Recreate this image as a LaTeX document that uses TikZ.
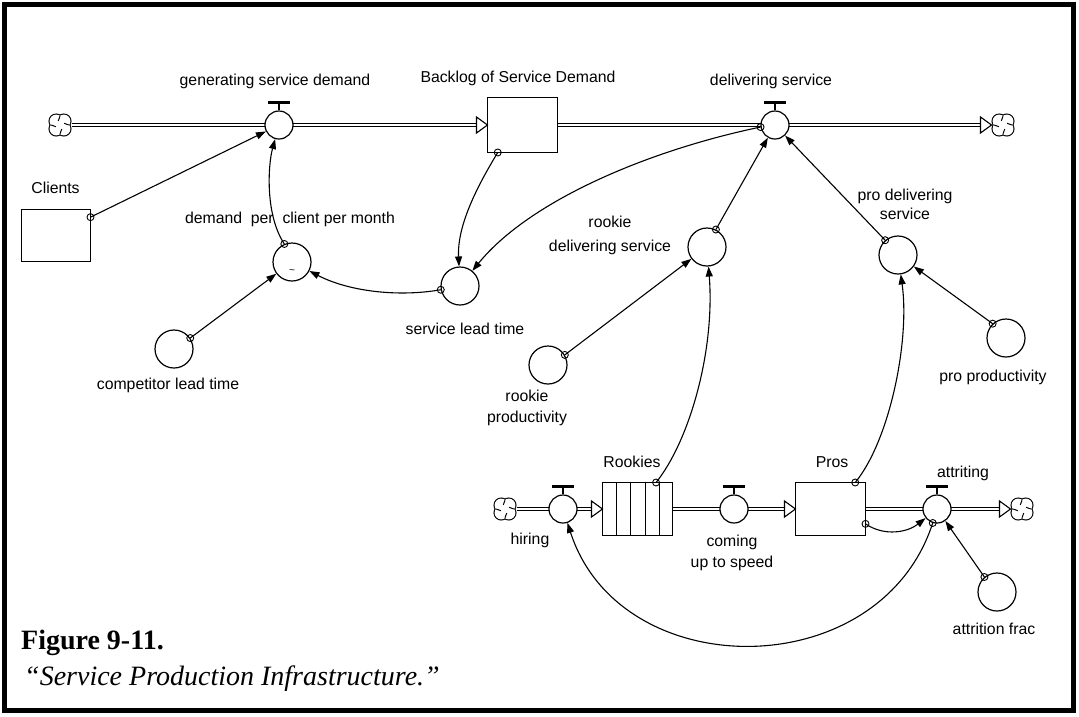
\documentclass[tikz,border=0pt]{standalone}
\usepackage{fontspec}
\setmainfont{Liberation Sans}
\newfontfamily\capfont{Liberation Serif}
\usetikzlibrary{arrows.meta,backgrounds}

\newcommand{\valvetop}[1]{%
  \draw[line width=2.2pt] (#1.north) -- ++(0,-7);
  \draw[line width=3pt] (#1.north) ++(-11,-8) -- ++(22,0);
}
\newcommand{\drawcloud}[1]{%
  \foreach \a in {45,135,225,315} \draw[line width=2.2pt] (#1.center) ++(\a:5.4) circle[radius=6.6];
  \foreach \a in {45,135,225,315} \fill[white] (#1.center) ++(\a:5.4) circle[radius=6.6];
  \foreach \a in {0,90,180,270} \draw[line width=1pt] (#1.center) ++(\a:8.8) -- ++({\a+200}:5);
}

\tikzset{
  valve/.style={circle, draw, fill=white, line width=1.2pt, minimum size=28pt, inner sep=0},
  aux/.style={circle, draw, fill=white, line width=1.2pt, minimum size=38pt, inner sep=0},
  stock/.style={rectangle, draw, fill=white, line width=1.8pt, minimum width=70pt, minimum height=55pt, inner sep=0, outer sep=0},
  orig/.style={circle, draw, line width=0.9pt, minimum size=7pt, inner sep=0},
  link/.style={line width=1.1pt, -{Triangle[length=10pt,width=7pt]}},
  pipe/.style={draw, line width=1.1pt, double=white, double distance=2.6pt},
  inhead/.style={draw, fill=white, line width=1.1pt, line join=miter},
  cloudnode/.style={circle, minimum size=23pt, inner sep=0, outer sep=0},
  lbl/.style={inner sep=0, font=\fontsize{15.8}{19}\selectfont, align=center},
}

\begin{document}
\begin{tikzpicture}[x=1pt, y=-1pt]
\useasboundingbox (0,0) rectangle (1079,716);
\draw[line width=5pt] (4.5,4.5) rectangle (1073.5,710.5);

% clouds
\node[cloudnode] (cl1) at (60,125) {};
\node[cloudnode] (cl2) at (1003,125) {};
\node[cloudnode] (cl3) at (505,509) {};
\node[cloudnode] (cl4) at (1022,509) {};

% stocks
\node[stock] (backlog) at (522.5,125) {};
\node[stock, minimum width=69pt, minimum height=52pt] (clients) at (56,235.5) {};
\node[stock, line width=1.3pt, minimum height=53pt] (rookies) at (637.5,509) {};
\node[stock, minimum height=53pt] (pros) at (830.5,509) {};
\foreach \i in {1,...,4}
  \draw[line width=1.1pt] ([xshift={\i*14.2pt}]rookies.north west) -- ([xshift={\i*14.2pt}]rookies.south west);

% valves
\node[valve] (gen) at (279,125) {};
\node[valve] (del) at (775,125) {};
\node[valve] (hire) at (563,509) {};
\node[valve] (cus) at (734,509) {};
\node[valve] (att) at (937,509) {};

% auxiliaries
\node[aux] (dpc) at (292,262) {};
\node[aux] (slt) at (460,286) {};
\node[aux] (comp) at (174,349) {};
\node[aux] (rds) at (707,247) {};
\node[aux] (rp) at (548,365) {};
\node[aux] (pds) at (898,255) {};
\node[aux] (pp) at (1006,338) {};
\node[aux] (af) at (997,592) {};
\node[inner sep=0, font=\fontsize{10}{10}\selectfont] (tilde) at (292,272) {\char`\~};

% pipes
\begin{pgfonlayer}{background}
\draw[pipe] (cl1.east) -- ([xshift=-11pt]backlog.west);
\draw[pipe] (backlog.east) -- ([xshift=-11pt]cl2.west);
\draw[pipe] (cl3.east) -- ([xshift=-11pt]rookies.west);
\draw[pipe] (rookies.east) -- ([xshift=-11pt]pros.west);
\draw[pipe] (pros.east) -- ([xshift=-11pt]cl4.west);
\end{pgfonlayer}

% inflow heads
\draw[inhead] (backlog.west) -- ++(-11,-8) -- ++(0,16) -- cycle;
\draw[inhead] (cl2.west) -- ++(-11,-8) -- ++(0,16) -- cycle;
\draw[inhead] (rookies.west) -- ++(-11,-8) -- ++(0,16) -- cycle;
\draw[inhead] (pros.west) -- ++(-11,-8) -- ++(0,16) -- cycle;
\draw[inhead] (cl4.west) -- ++(-11,-8) -- ++(0,16) -- cycle;

\drawcloud{cl1}
\drawcloud{cl2}
\drawcloud{cl3}
\drawcloud{cl4}

\valvetop{gen}
\valvetop{del}
\valvetop{hire}
\valvetop{cus}
\valvetop{att}

% link origins
\node[orig] (o1) at (clients.28) {};
\node[orig] (o2) at (dpc.113) {};
\node[orig] (o3) at (comp.34) {};
\node[orig] (o4) at (slt.191) {};
\node[orig] (o5) at (backlog.228) {};
\node[orig] (o6) at (del.188) {};
\node[orig] (o7) at (rp.31) {};
\node[orig] (o8) at (rds.63) {};
\node[orig] (o9) at (pds.131) {};
\node[orig] (o10) at (pp.133) {};
\node[orig] (o11) at (rookies.55) {};
\node[orig] (o12) at (pros.47) {};
\node[orig] (o13) at (pros.-23) {};
\node[orig] (o14) at (att.253) {};
\node[orig] (o15) at (af.130) {};

% links
\draw[link] (o1.center) -- (gen);
\draw[link] (o2.center) .. controls (265,215) and (268,165) .. (gen);
\draw[link] (o3.center) -- (dpc);
\draw[link] (o4.center) .. controls (400,297) and (350,292) .. (dpc);
\draw[link] (o5.center) .. controls (478,185) and (457,225) .. (slt);
\draw[link] (o6.center) .. controls (650,150) and (530,200) .. (slt);
\draw[link] (o7.center) -- (rds);
\draw[link] (o8.center) -- (del);
\draw[link] (o9.center) -- (del);
\draw[link] (o10.center) -- (pds);
\draw[link] (o11.center) .. controls (690,440) and (715,350) .. (rds);
\draw[link] (o12.center) .. controls (890,440) and (910,340) .. (pds);
\draw[link] (o13.center) .. controls (885,537) and (908,532) .. (att);
\draw[link] (o14.center) .. controls (880,686) and (620,686) .. (hire);
\draw[link] (o15.center) -- (att);

% labels
\node[lbl] (lgen) at (275,81) {generating service demand};
\node[lbl] (lback) at (518,78) {Backlog of Service Demand};
\node[lbl] (ldel) at (771,81) {delivering service};
\node[lbl] (lcli) at (55.5,188) {Clients};
\node[lbl] (ldpc) at (290,219) {demand\ \ per\ \ client per month};
\node[lbl] (lrds) at (610,235) {rookie\\[5pt]delivering service};
\node[lbl] (lpds) at (905,204) {pro delivering\\service};
\node[lbl] (lslt) at (465,329) {service lead time};
\node[lbl] (lcomp) at (168,385) {competitor lead time};
\node[lbl] (lrp) at (527,408) {rookie\\[2pt]productivity};
\node[lbl] (lpp) at (993,377) {pro productivity};
\node[lbl] (lrook) at (632,462) {Rookies};
\node[lbl] (lpros) at (832,462) {Pros};
\node[lbl] (latt) at (963,473) {attriting};
\node[lbl] (lhire) at (530,540) {hiring};
\node[lbl] (lcus) at (732,553) {coming\\[2pt]up to speed};
\node[lbl] (laf) at (994,629) {attrition frac};

% caption
\node[inner sep=0, anchor=west, font=\capfont\bfseries\fontsize{28}{32}\selectfont] (cap1) at (21,643) {Figure 9-11.};
\node[inner sep=0, anchor=west, font=\capfont\itshape\fontsize{28}{32}\selectfont] (cap2) at (24,679) {“Service Production Infrastructure.”};
\end{tikzpicture}
\end{document}
